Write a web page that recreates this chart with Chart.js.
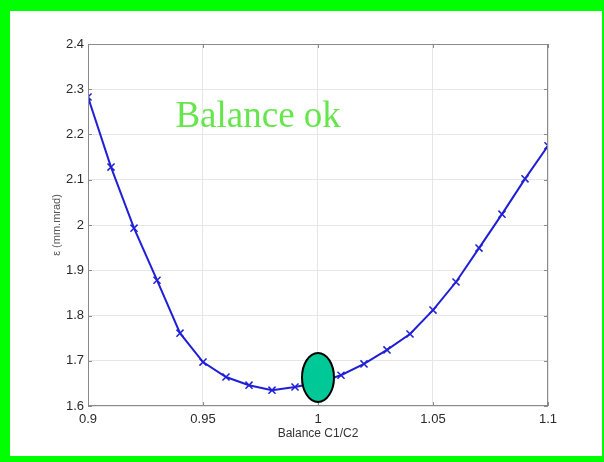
<!DOCTYPE html>
<html><head><meta charset="utf-8">
<script src="https://cdn.jsdelivr.net/npm/chart.js@4"></script>
<style>html,body{margin:0;padding:0;background:#fff}#wrap{width:604px;height:462px}</style>
</head><body><div id="wrap"><canvas id="c" width="604" height="462"></canvas></div>
<script>
const balance = [0.90,0.91,0.92,0.93,0.94,0.95,0.96,0.97,0.98,0.99,1.00,1.01,1.02,1.03,1.04,1.05,1.06,1.07,1.08,1.09,1.10];
const emittance = [2.283,2.128,1.993,1.878,1.761,1.697,1.664,1.646,1.635,1.642,1.652,1.668,1.693,1.724,1.759,1.812,1.874,1.949,2.024,2.102,2.175];
const xTicks = [0.9,0.95,1,1.05,1.1];
const xTickLabels = ['0.9','0.95','1','1.05','1.1'];
const yTicks = [1.6,1.7,1.8,1.9,2.0,2.1,2.2,2.3,2.4];
const yTickLabels = ['1.6','1.7','1.8','1.9','2','2.1','2.2','2.3','2.4'];
const marker = {x:1.0, y:1.663};
const noteText = 'Balance ok';
const note = {x:0.938, y:2.217};

const decor = {
  id:'decor',
  beforeDraw(chart){
    const c = chart.ctx;
    c.save();
    c.fillStyle = '#00ff00';
    c.fillRect(0,0,604,462);
    c.fillStyle = '#ffffff';
    c.fillRect(10,11,592,445);
    c.restore();
  },
  afterDraw(chart){
    const c = chart.ctx, a = chart.chartArea, xs = chart.scales.x, ys = chart.scales.y;
    c.save();
    c.strokeStyle = '#8a8a8a'; c.lineWidth = 1;
    c.strokeRect(a.left+0.5, a.top+0.5, a.right-a.left-1, a.bottom-a.top-1);
    c.beginPath();
    xTicks.forEach(v=>{const p=Math.round(xs.getPixelForValue(v))+0.5;
      c.moveTo(p,a.top); c.lineTo(p,a.top+4); c.moveTo(p,a.bottom); c.lineTo(p,a.bottom-4);});
    yTicks.forEach(v=>{const p=Math.round(ys.getPixelForValue(v))+0.5;
      c.moveTo(a.left,p); c.lineTo(a.left+4,p); c.moveTo(a.right,p); c.lineTo(a.right-4,p);});
    c.stroke();
    // ellipse marker
    const ex = xs.getPixelForValue(marker.x), ey = ys.getPixelForValue(marker.y);
    c.beginPath();
    c.ellipse(ex, ey, 16, 24.5, 0, 0, Math.PI*2);
    c.fillStyle = '#00c896'; c.fill();
    c.lineWidth = 2; c.strokeStyle = '#000'; c.stroke();
    // note text
    c.font = '37px "Liberation Serif", "Times New Roman", serif';
    c.fillStyle = '#66e64c';
    c.textBaseline = 'alphabetic';
    c.fillText(noteText, xs.getPixelForValue(note.x), ys.getPixelForValue(note.y));
    c.restore();
  }
};

new Chart(document.getElementById('c'), {
  type:'line',
  data:{ datasets:[{
    data: balance.map((x,i)=>({x:x, y:emittance[i]})),
    borderColor:'#1f1fd6', backgroundColor:'#1f1fd6',
    borderWidth:2, pointStyle:'crossRot', pointRadius:5, pointBorderWidth:1.5,
    pointBorderColor:'#1f1fd6', tension:0, fill:false
  }]},
  options:{
    responsive:false, animation:false,
    layout:{padding:{left:10, right:56, top:44, bottom:21}},
    plugins:{legend:{display:false}, tooltip:{enabled:false}},
    scales:{
      x:{ type:'linear', min:0.9, max:1.1,
        afterBuildTicks(s){ s.ticks = xTicks.map(v=>({value:v})); },
        afterFit(s){ s.height = 35; },
        border:{display:false},
        grid:{color:'#e6e6e6', drawTicks:false},
        ticks:{padding:6, color:'#2a2a2a', font:{family:'"Liberation Sans", Arial, sans-serif', size:13},
          callback:(v,i)=>xTickLabels[xTicks.indexOf(v)] ?? ''},
        title:{display:true, text:'Balance C1/C2', color:'#333', padding:{top:1,bottom:0},
          font:{family:'"Liberation Sans", Arial, sans-serif', size:12}}
      },
      y:{ type:'linear', min:1.6, max:2.4,
        afterBuildTicks(s){ s.ticks = yTicks.map(v=>({value:v})); },
        afterFit(s){ s.width = 78; },
        border:{display:false},
        grid:{color:'#e6e6e6', drawTicks:false},
        ticks:{padding:4, color:'#2a2a2a', font:{family:'"Liberation Sans", Arial, sans-serif', size:13},
          callback:(v)=>{const i=yTicks.findIndex(t=>Math.abs(t-v)<1e-9); return i>=0?yTickLabels[i]:'';}},
        title:{display:true, text:'ε (mm.mrad)', color:'#555', padding:{top:40,bottom:0},
          font:{family:'"Liberation Sans", Arial, sans-serif', size:11}}
      }
    }
  },
  plugins:[decor]
});
</script></body></html>
